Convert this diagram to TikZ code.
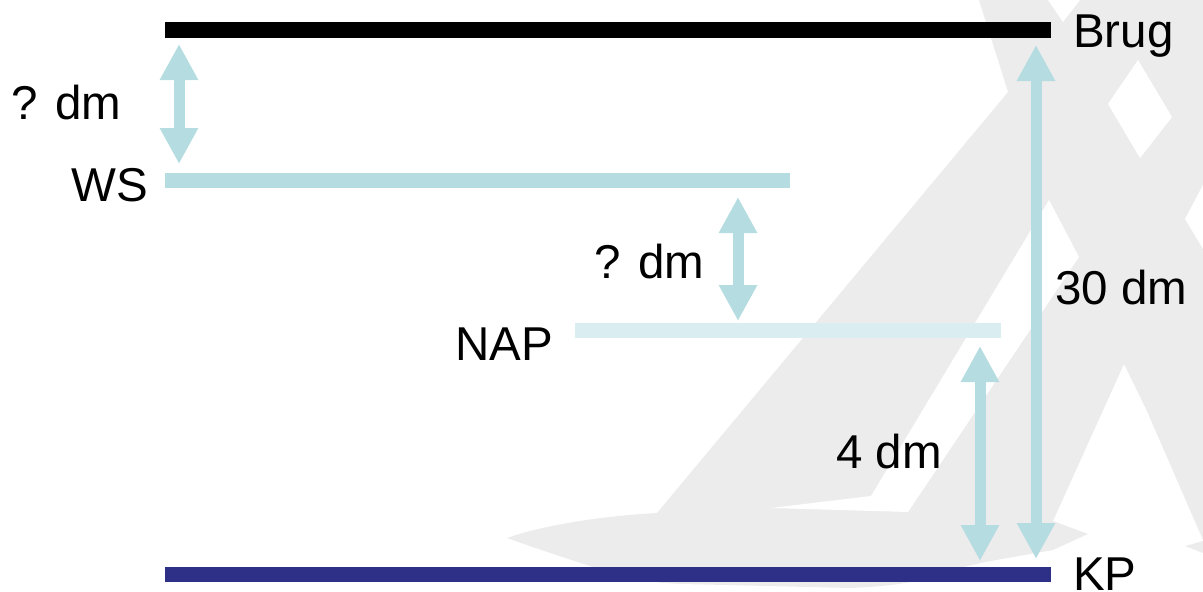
\documentclass[tikz,border=0pt]{standalone}
\usepackage{fontspec}
\setmainfont{Liberation Sans}
\usepackage{xcolor}
\usetikzlibrary{arrows.meta,positioning}
\definecolor{peilteal}{HTML}{B5DCE0}
\definecolor{naplight}{HTML}{DAEDF0}
\definecolor{kpnavy}{HTML}{2E3087}
\definecolor{logogrey}{HTML}{ECECEC}

\begin{document}
\begin{tikzpicture}[x=1pt,y=-1pt,
  level_bar/.style={line width=15pt},
  dim_arrow/.style={{Triangle[width=36pt,length=36pt]}-{Triangle[width=36pt,length=36pt]},
                    peilteal, line width=11pt},
  level_label/.style={font=\fontsize{47.5}{52}\selectfont, inner sep=0pt},
  logo/.style={fill=logogrey, draw=none},
  logo_cut/.style={fill=white, draw=none}
]
\useasboundingbox (0,0) rectangle (1203,592);
\clip (0,0) rectangle (1203,592);

% Bar end x-positions
\def\xL{165}
\def\xR{1051}

% Watermark in the background
\fill[logo] (979,0) -- (1008,92) -- (657,513)
  .. controls (600,516) and (540,526) .. (507,538)
  .. controls (535,548) and (565,558) .. (590,566)
  .. controls (620,578) and (650,583) .. (683,584)
  -- (850,588) .. controls (900,586) and (930,580) .. (960,568)
  -- (985,562) -- (1053,550) -- (1088,534) -- (1053,521)
  -- (1124,364) -- (1146,409) -- (1203,540) -- (1203,0) -- cycle;
\fill[logo] (1185,546) -- (1203,541) -- (1203,553) -- cycle;
\fill[logo_cut] (1048,0) -- (1063,22) -- (1080,0) -- cycle;
\fill[logo_cut] (1138,60) -- (1172,117) -- (1140,158) -- (1108,104) -- cycle;
\fill[logo_cut] (1203,185) -- (1185,219) -- (1203,249) -- cycle;
\fill[logo_cut] (1049,200) -- (1079,257) -- (908,512) -- (771,508) -- (871,496) -- cycle;

% Level bars
\coordinate (brugA) at (\xL,29.5);
\coordinate (brugB) at (\xR,29.5);
\coordinate (wsA)   at (\xL,180);
\coordinate (wsB)   at (790,180);
\coordinate (napA)  at (575,330);
\coordinate (napB)  at (1001,330);
\coordinate (kpA)   at (\xL,574);
\coordinate (kpB)   at (\xR,574);

\draw[level_bar, black, line width=16pt] (brugA) -- (brugB);
\draw[level_bar, peilteal] (wsA) -- (wsB);
\draw[level_bar, naplight] (napA) -- (napB);
\draw[level_bar, kpnavy] (kpA) -- (kpB);

% Distance arrows
\coordinate (d1top) at (179,44);
\coordinate (d1bot) at (179,164);
\coordinate (d2top) at (738,197);
\coordinate (d2bot) at (738,321);
\coordinate (d3top) at (980,346);
\coordinate (d3bot) at (980,561);
\coordinate (d4top) at (1036,45);
\coordinate (d4bot) at (1036,559);

\foreach \k in {1,2,3,4}{
  \draw[dim_arrow] (d\k top) -- (d\k bot);
}

% Labels
\node[level_label, anchor=base west] (brugL) at (1073,47)  {Brug};
\node[level_label, anchor=base east] (wsL)   at (148,201)  {WS};
\node[level_label, anchor=base east] (napL)  at (553,360)  {NAP};
\node[level_label, anchor=base west] (kpL)   at (1073,590) {KP};

\node[level_label, anchor=base west] (d1L) at (11,119)   {? dm};
\node[level_label, anchor=base west] (d2L) at (594,278)  {? dm};
\node[level_label, anchor=base west] (d3L) at (836,468)  {4 dm};
\node[level_label, anchor=base west] (d4L) at (1055,304) {30 dm};

\end{tikzpicture}
\end{document}
